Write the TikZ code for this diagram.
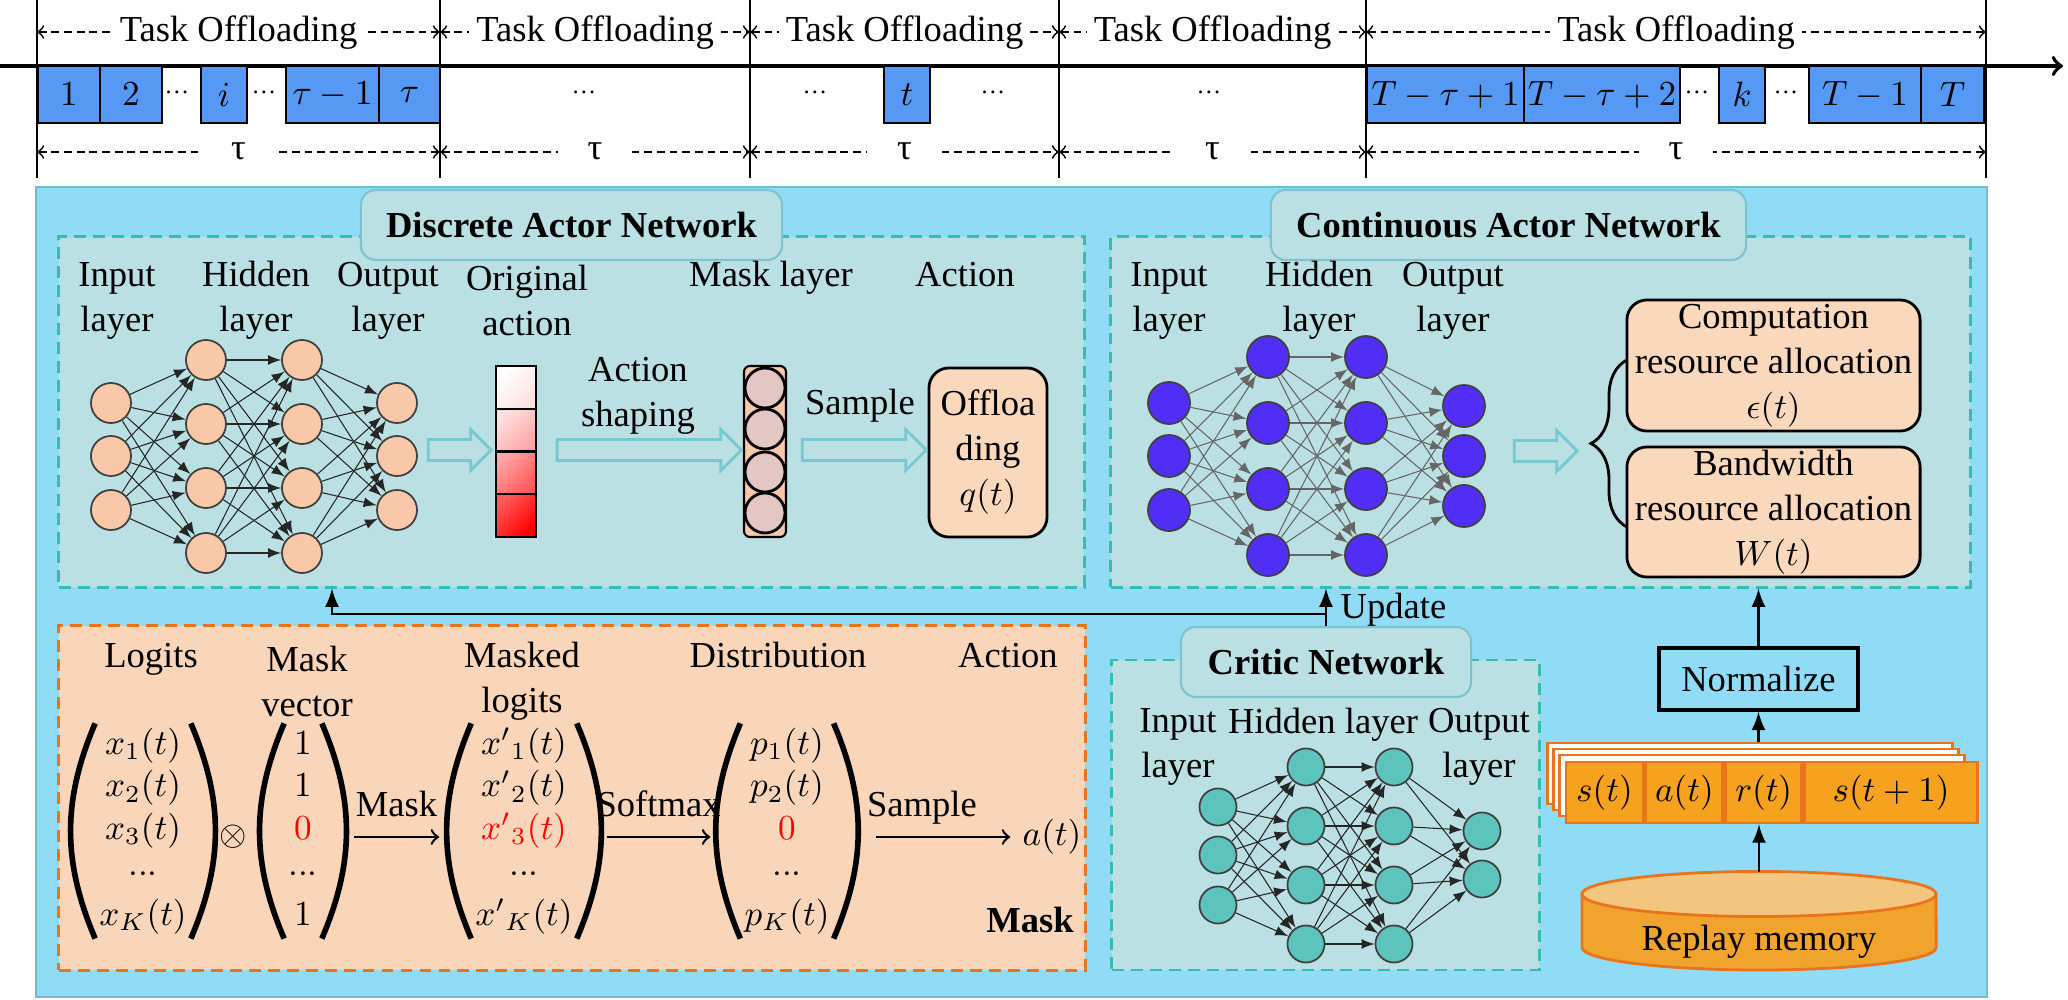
\documentclass[tikz,border=0pt]{standalone}
\usepackage{fontspec}
\setmainfont{Liberation Serif}
\usetikzlibrary{positioning,shapes.arrows,decorations.pathreplacing}
\setlength{\arraycolsep}{1pt}
\renewcommand{\arraystretch}{0.95}
\newcommand{\rowdots}{{\cdotp}{\cdotp}{\cdotp}}

\definecolor{bgblue}{RGB}{144,220,246}
\definecolor{bgline}{RGB}{112,192,200}
\definecolor{panelfill}{RGB}{186,224,227}
\definecolor{panelline}{RGB}{52,190,178}
\definecolor{titleline}{RGB}{125,196,204}
\definecolor{maskfill}{RGB}{249,214,185}
\definecolor{maskline}{RGB}{232,116,28}
\definecolor{dfill}{RGB}{248,200,168}
\definecolor{cfill}{RGB}{80,46,245}
\definecolor{kfill}{RGB}{92,196,188}
\definecolor{slotblue}{RGB}{85,153,245}
\definecolor{hollowc}{RGB}{120,200,208}
\definecolor{boxfill}{RGB}{250,216,188}
\definecolor{mcfill}{RGB}{228,198,194}
\definecolor{recfill}{RGB}{247,162,30}
\definecolor{cyltop}{RGB}{242,198,126}
\definecolor{cylbody}{RGB}{240,163,45}

\begin{document}
\begin{tikzpicture}[x=0.01cm, y=0.01cm,
  font=\fontsize{10.4}{12.8}\selectfont,
  slot/.style={draw, line width=0.4pt, fill=slotblue, minimum height=0.57cm, inner sep=0pt},
  span/.style={<->, line width=0.5pt, dash pattern=on 2.2pt off 1.4pt},
  panel/.style={draw=panelline, fill=panelfill, line width=0.8pt, dash pattern=on 3.4pt off 2pt, inner sep=0pt},
  netname/.style={draw=titleline, fill=panelfill, line width=0.6pt, rounded corners=0.15cm, inner sep=0pt, minimum height=0.7cm, font=\fontsize{10.4}{12.8}\selectfont\bfseries},
  lbl/.style={align=center, inner sep=0pt},
  dnode/.style={circle, draw=black!75, line width=0.5pt, fill=dfill, minimum size=0.40cm, inner sep=0pt},
  cnode/.style={circle, draw=black!75, line width=0.5pt, fill=cfill, minimum size=0.42cm, inner sep=0pt},
  knode/.style={circle, draw=black!75, line width=0.5pt, fill=kfill, minimum size=0.37cm, inner sep=0pt},
  link/.style={-latex, line width=0.3pt, black!85},
  glink/.style={-latex, line width=0.3pt, black!60},
  hollow/.style={single arrow, draw=hollowc, line width=0.8pt, inner xsep=0pt, inner ysep=0.09cm, single arrow head extend=0.1cm},
  cell/.style={draw, line width=0.7pt, minimum width=0.40cm, minimum height=0.43cm, inner sep=0pt},
  mcirc/.style={circle, draw, line width=0.8pt, fill=mcfill, minimum size=0.40cm, inner sep=0pt},
  obox/.style={draw, line width=0.8pt, rounded corners=0.2cm, fill=boxfill, align=center, inner sep=0pt},
  vec/.style={inner sep=0pt},
  paren/.style={line width=1.6pt},
  upd/.style={-latex, line width=0.8pt},
  flow/.style={->, line width=0.7pt},
  rec/.style={draw=maskline, line width=0.8pt, fill=recfill, minimum height=0.61cm, inner sep=0pt},
  sheet/.style={draw=maskline, line width=0.8pt, fill=white, minimum width=4.04cm, minimum height=0.61cm}]
  \useasboundingbox (0,0) rectangle (2068,999);

  % time line
  \foreach \x in {37,440,750,1059,1366,1986}
    \draw[line width=0.6pt] (\x,999) -- (\x,821);
  \draw[->, line width=1.1pt] (0,933) -- (2063,933);
  \foreach \a/\b [count=\i] in {37/440,440/750,750/1059,1059/1366,1366/1986}
    {
      \draw[span] (\a,967) -- (\b,967);
      \node[fill=white, inner xsep=2pt, inner ysep=0pt] (task\i) at ({(\a+\b)/2},966) {Task Offloading};
      \draw[span] (\a,847) -- (\b,847);
      \node[fill=white, inner xsep=0.3cm, inner ysep=0pt] (tau\i) at ({(\a+\b)/2},848) {τ};
    }
  \foreach \a/\b/\t [count=\i] in {38/100/1,100/162/2,201/247/i,286/379/\tau-1,379/440/\tau,884/930/t,1367/1524/T-\tau+1,1524/1680/T-\tau+2,1719/1765/k,1809/1921/T-1,1921/1984/T}
    \node[slot, minimum width={(\b-\a)*0.01cm}] (s\i) at ({(\a+\b)/2},904.5) {$\t$};
  \foreach \x [count=\i] in {177,264,584,815,993,1209,1697,1786}
    \node[anchor=base, inner sep=0pt, font=\fontsize{7}{8}\selectfont] (dot\i) at (\x,905) {…};

  % frames
  \draw[fill=bgblue, draw=bgline, line width=0.6pt] (36,2) rectangle (1987,812);
  \node[panel, minimum width=10.25cm, minimum height=3.5cm] (disc) at (571.5,587) {};
  \node[panel, minimum width=8.59cm, minimum height=3.5cm] (cont) at (1540.5,587) {};
  \node[panel, draw=maskline, fill=maskfill, minimum width=10.26cm, minimum height=3.44cm] (mask) at (572,201) {};
  \node[panel, minimum width=4.27cm, minimum height=3.10cm] (crit) at (1325.5,184) {};
  \node[netname, minimum width=4.21cm] (discT) at (571.5,774) {Discrete Actor Network};
  \node[netname, minimum width=4.75cm] (contT) at (1508.5,774) {Continuous Actor Network};
  \node[netname, minimum width=2.90cm] (critT) at (1326,337) {Critic Network};

  % discrete actor
  \foreach \y [count=\i] in {596,543,489}
    {
      \node[dnode] (di\i) at (111,\y) {};
      \node[dnode] (do\i) at (397,\y) {};
    }
  \foreach \y [count=\i] in {639,575,511,446}
    {
      \node[dnode] (dh\i) at (206,\y) {};
      \node[dnode] (dg\i) at (302,\y) {};
    }
  \foreach \j in {1,...,4}
    {
      \foreach \i in {1,2,3}
        {
          \draw[link] (di\i) -- (dh\j);
          \draw[link] (dg\j) -- (do\i);
        }
      \foreach \k in {1,...,4}
        \draw[link] (dh\j) -- (dg\k);
    }
  \node[lbl] (dinL) at (117,698.5) {Input\\layer};
  \node[lbl] (dhidL) at (256,698.5) {Hidden\\layer};
  \node[lbl] (doutL) at (388,698.5) {Output\\layer};
  \node[lbl] (origL) at (527,698.5) {Original\\action};
  \node[anchor=base, inner sep=0pt] (mlayL) at (771,712) {Mask layer};
  \node[anchor=base, inner sep=0pt] (actL) at (965,712) {Action};
  \foreach \t/\b [count=\i] in {white/red!12,red!12/red!35,red!35/red!65,red!65/red}
    \node[cell, top color=\t, bottom color=\b, shading angle=45] (oa\i) at (516,{611.5-(\i-1)*42.75}) {};
  \node[draw, line width=0.6pt, rounded corners=0.06cm, fill=dfill, minimum width=0.42cm, minimum height=1.71cm, inner sep=0pt] (mcol) at (765,547.5) {};
  \foreach \y [count=\i] in {611,570,527,486}
    \node[mcirc] (mc\i) at (765,\y) {};
  \node[obox, minimum width=1.18cm, minimum height=1.69cm] (off) at (988,546.5) {Offloa\\ding\\$q(t)$};
  \node[hollow, minimum height=0.63cm] (h1) at (454.5,549) {};
  \node[hollow, minimum height=1.84cm] (h2) at (644,549) {};
  \node[hollow, minimum height=1.24cm] (h3) at (859,549) {};
  \node[lbl] (shapL) at (638,603) {Action\\shaping};
  \node[anchor=base, inner sep=0pt] (smpL) at (860,584) {Sample};

  % continuous actor
  \foreach \y [count=\i] in {596,543,489}
    \node[cnode] (ci\i) at (1169,\y) {};
  \foreach \y [count=\i] in {593,543,493}
    \node[cnode] (co\i) at (1464,\y) {};
  \foreach \y [count=\i] in {642,576,510,444}
    {
      \node[cnode] (ch\i) at (1268,\y) {};
      \node[cnode] (cg\i) at (1366,\y) {};
    }
  \foreach \j in {1,...,4}
    {
      \foreach \i in {1,2,3}
        {
          \draw[glink] (ci\i) -- (ch\j);
          \draw[glink] (cg\j) -- (co\i);
        }
      \foreach \k in {1,...,4}
        \draw[glink] (ch\j) -- (cg\k);
    }
  \node[lbl] (cinL) at (1169,698.5) {Input\\layer};
  \node[lbl] (chidL) at (1319,698.5) {Hidden\\layer};
  \node[lbl] (coutL) at (1453,698.5) {Output\\layer};
  \node[hollow, minimum height=0.63cm] (h4) at (1540.5,548) {};
  \draw[decorate, decoration={brace, amplitude=0.36cm}, line width=0.8pt] (1627,472) -- (1627,639);
  \node[obox, minimum width=2.93cm, minimum height=1.31cm] (comp) at (1773.5,633.5) {Computation\\resource allocation\\$\epsilon(t)$};
  \node[obox, minimum width=2.93cm, minimum height=1.30cm] (band) at (1773.5,487) {Bandwidth\\resource allocation\\$W(t)$};

  % critic
  \foreach \y [count=\i] in {192,144,94}
    \node[knode] (ki\i) at (1218,\y) {};
  \foreach \y [count=\i] in {168,120}
    \node[knode] (ko\i) at (1482,\y) {};
  \foreach \y [count=\i] in {232,173,114,55}
    {
      \node[knode] (kh\i) at (1306,\y) {};
      \node[knode] (kg\i) at (1394,\y) {};
    }
  \foreach \j in {1,...,4}
    {
      \foreach \i in {1,2,3}
        \draw[link] (ki\i) -- (kh\j);
      \foreach \i in {1,2}
        \draw[link] (kg\j) -- (ko\i);
      \foreach \k in {1,...,4}
        \draw[link] (kh\j) -- (kg\k);
    }
  \node[lbl] (kinL) at (1178,252.5) {Input\\layer};
  \node[anchor=base, inner sep=0pt] (khidL) at (1323,266) {Hidden layer};
  \node[lbl] (koutL) at (1479,252.5) {Output\\layer};

  % update
  \coordinate (updL) at (332,385);
  \draw[upd] (critT.north) -- (critT.north |- cont.south);
  \draw[upd] (critT.north |- updL) -- (updL) -- (updL |- disc.south);
  \node[anchor=base west, inner sep=0pt] (updT) at (1340,380) {Update};

  % mask
  \node[anchor=base, inner sep=0pt] (logL) at (151,331) {Logits};
  \node[lbl] (mvL) at (307,317.5) {Mask\\vector};
  \node[lbl] (mlL) at (522,317.5) {Masked\\logits};
  \node[anchor=base, inner sep=0pt] (diL) at (778,331) {Distribution};
  \node[anchor=base, inner sep=0pt] (acL) at (1008,331) {Action};
  \node[vec] (xv) at (143,168) {$\begin{array}{c}x_1(t)\\x_2(t)\\x_3(t)\\\rowdots\\x_K(t)\end{array}$};
  \node (ot) at (233,162) {$\otimes$};
  \node[vec] (mv) at (303,168) {$\begin{array}{c}1\\1\\{\color{red}0}\\\rowdots\\1\end{array}$};
  \node[vec] (mlv) at (524,168) {$\begin{array}{c}{x'}_1(t)\\{x'}_2(t)\\{\color{red}{x'}_3(t)}\\\rowdots\\{x'}_K(t)\end{array}$};
  \node[vec] (pv) at (787,168) {$\begin{array}{c}p_1(t)\\p_2(t)\\{\color{red}0}\\\rowdots\\p_K(t)\end{array}$};
  \foreach \v in {xv,mv,mlv,pv}
    {
      \draw[paren] (\v.north west) to[bend right=23] (\v.south west);
      \draw[paren] (\v.north east) to[bend left=23] (\v.south east);
    }
  \node (act) at (1052,162) {$a(t)$};
  \draw[flow, shorten <=0.32cm, shorten >=0.32cm] (mv.east |- ot) -- node[above=2pt] (mskA) {Mask} (mlv.west |- ot);
  \draw[flow, shorten <=0.30cm, shorten >=0.30cm] (mlv.east |- ot) -- node[above=2pt] (smxA) {Softmax} (pv.west |- ot);
  \draw[flow, shorten <=0.42cm] (pv.east |- act.west) -- node[above] (smpA) {Sample} (act.west);
  \node[font=\fontsize{10.4}{12.8}\selectfont\bfseries] (maskT) at (1030,79) {Mask};

  % replay
  \node[draw, line width=1pt, minimum width=1.99cm, minimum height=0.62cm, inner sep=0pt] (norm) at (1758.5,320) {Normalize};
  \draw[upd] (norm.north) -- (norm.north |- cont.south);
  \foreach \d [count=\i] in {0,6,12}
    \node[sheet] (sh\i) at ({1750+\d},{225.5-\d}) {};
  \node[rec, minimum width=0.77cm] (rs) at (1604.5,206.5) {$s(t)$};
  \node[rec, minimum width=0.77cm, right=0pt of rs] (ra) {$a(t)$};
  \node[rec, minimum width=0.76cm, right=0pt of ra] (rr) {$r(t)$};
  \node[rec, minimum width=1.73cm, right=0pt of rr] (rn) {$s(t+1)$};
  \draw[upd] (norm.south |- sh1.north) -- (norm.south);
  \fill[cylbody] (1582,105) -- (1582,51.5) arc[start angle=180, end angle=360, x radius=1.77cm, y radius=0.225cm] -- (1936,105) -- cycle;
  \draw[maskline, line width=0.8pt] (1582,105) -- (1582,51.5) arc[start angle=180, end angle=360, x radius=1.77cm, y radius=0.225cm] -- (1936,105);
  \draw[maskline, line width=0.8pt, fill=cyltop] (1759,105) ellipse [x radius=1.77cm, y radius=0.225cm];
  \node (mem) at (1759,57) {Replay memory};
  \coordinate (memT) at (1759,127.5);
  \draw[upd] (memT) -- (memT |- rr.south);
\end{tikzpicture}
\end{document}
